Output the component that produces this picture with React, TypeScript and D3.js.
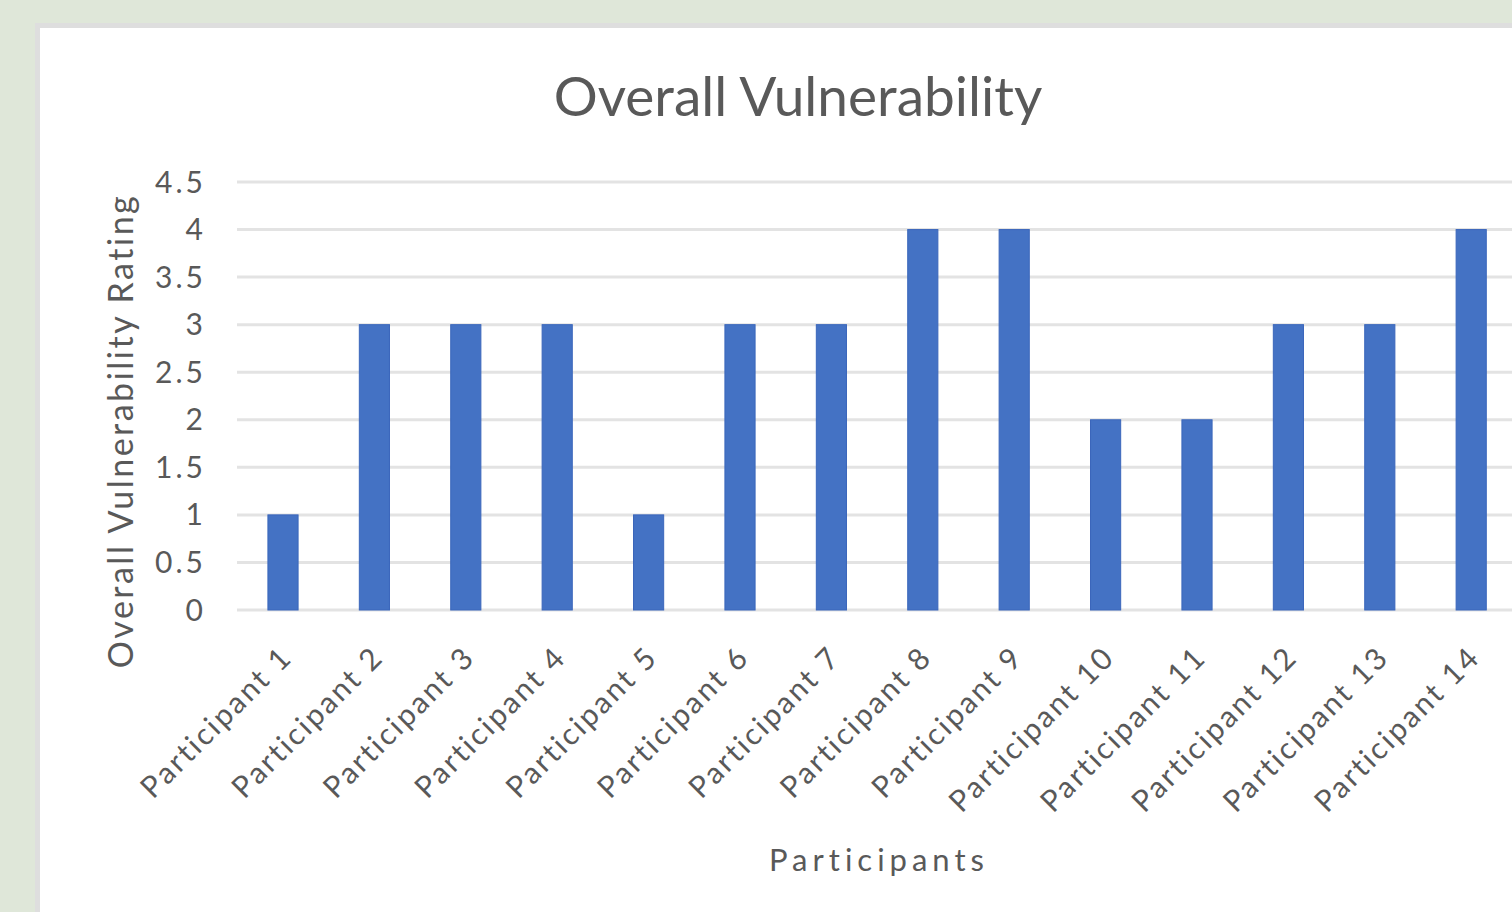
import React from "react";
import * as d3 from "d3";

const categories = [
  "Participant 1", "Participant 2", "Participant 3", "Participant 4", "Participant 5",
  "Participant 6", "Participant 7", "Participant 8", "Participant 9", "Participant 10",
  "Participant 11", "Participant 12", "Participant 13", "Participant 14",
];
const values = [1, 3, 3, 3, 1, 3, 3, 4, 4, 2, 2, 3, 3, 4];
const yTicks = [0, 0.5, 1, 1.5, 2, 2.5, 3, 3.5, 4, 4.5];
const yTickLabels = ["0", "0.5", "1", "1.5", "2", "2.5", "3", "3.5", "4", "4.5"];

const W = 1512;
const H = 912;
const FONT = "Lato, 'Liberation Sans', sans-serif";

export default function App() {
  const step = 91.4;
  const x0 = 283 - step / 2;
  const x = d3
    .scaleBand<string>()
    .domain(categories)
    .range([x0, x0 + step * categories.length])
    .paddingInner(0.67)
    .paddingOuter(0.335);
  const y = d3.scaleLinear().domain([0, 4.5]).range([610, 182]);

  return (
    <svg
      width={W}
      height={H}
      style={{ position: "absolute", left: 0, top: 0, display: "block" }}
    >
      <rect x={0} y={0} width={W} height={H} fill="#dfe7d9" />
      <rect x={35} y={23} width={W} height={H} fill="#dedede" />
      <rect x={40} y={28} width={W} height={H} fill="#ffffff" />

      <text
        x={798}
        y={116}
        textAnchor="middle"
        fontFamily={FONT}
        fontSize={55}
        fill="#595959"
      >
        Overall Vulnerability
      </text>

      {yTicks.map((t, i) => (
        <g key={t}>
          <line
            x1={237}
            x2={W}
            y1={y(t)}
            y2={y(t)}
            stroke="#e3e3e3"
            strokeWidth={3}
          />
          <text
            x={206}
            y={y(t)}
            dy="0.35em"
            textAnchor="end"
            fontFamily={FONT}
            fontSize={30}
            letterSpacing={3}
            fill="#595959"
          >
            {yTickLabels[i]}
          </text>
        </g>
      ))}

      {categories.map((c, i) => (
        <rect
          key={c}
          x={x(c)!}
          y={y(values[i])}
          width={x.bandwidth()}
          height={y(0) - y(values[i])}
          fill="#4472c4"
          stroke="#3a66bb"
          strokeWidth={1}
        />
      ))}

      {categories.map((c) => {
        const cx = x(c)! + x.bandwidth() / 2 + 11;
        const cy = 659;
        return (
          <text
            key={c}
            x={cx}
            y={cy}
            textAnchor="end"
            transform={`rotate(-45, ${cx}, ${cy})`}
            fontFamily={FONT}
            fontSize={30}
            letterSpacing={2.5}
            fill="#595959"
          >
            {c}
          </text>
        );
      })}

      <text
        x={879}
        y={871}
        textAnchor="middle"
        fontFamily={FONT}
        fontSize={31}
        letterSpacing={5}
        fill="#595959"
      >
        Participants
      </text>

      <text
        transform="translate(133, 431) rotate(-90)"
        textAnchor="middle"
        fontFamily={FONT}
        fontSize={34}
        letterSpacing={2.5}
        fill="#595959"
      >
        Overall Vulnerability Rating
      </text>
    </svg>
  );
}
